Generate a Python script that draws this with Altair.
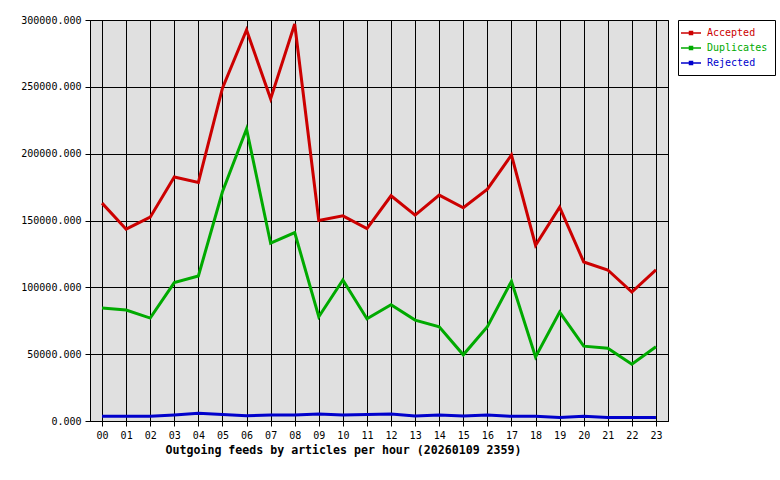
import altair as alt
import pandas as pd

hours = [f"{h:02d}" for h in range(24)]
accepted = [163000, 143500, 152500, 182500, 178500, 249000, 292500, 241000, 297000, 150000,
            153500, 144000, 168500, 154000, 169000, 159500, 173500, 199000, 131500, 160000,
            119000, 113000, 96500, 113000]
duplicates = [84500, 83000, 77000, 103500, 108500, 171500, 218500, 133000, 141000, 78000,
              105500, 76500, 87000, 75500, 70500, 49500, 70500, 104500, 48000, 81500,
              56000, 54500, 42500, 55500]
rejected = [3500, 3500, 3500, 4500, 5800, 4800, 4000, 4500, 4500, 5300,
            4400, 4800, 5200, 3700, 4500, 3700, 4500, 3500, 3500, 2700,
            3500, 2600, 2600, 2600]

series = ["Accepted", "Duplicates", "Rejected"]
colors = ["#cc0000", "#00aa00", "#0000cc"]

df = pd.DataFrame({"hour": hours, "Accepted": accepted, "Duplicates": duplicates, "Rejected": rejected})
long = df.melt(id_vars="hour", var_name="series", value_name="value")

FONT = "DejaVu Sans Mono"
label_color_expr = ("datum.label == 'Accepted' ? '#cc0000' : "
                    "(datum.label == 'Duplicates' ? '#00aa00' : '#0000cc')")

chart = alt.Chart(long).mark_line(strokeWidth=3).encode(
    x=alt.X("hour:O", sort=hours,
            scale=alt.Scale(paddingOuter=0.5),
            axis=alt.Axis(title="Outgoing feeds by articles per hour (20260109 2359)",
                          labelAngle=0, grid=True, gridColor="black", gridOpacity=1,
                          tickColor="black", tickSize=5, labelPadding=4,
                          domainColor="black", labelFont=FONT, labelFontSize=10,
                          labelColor="black", titleFont=FONT, titleFontSize=11.6,
                          titleFontWeight="bold", titleColor="black",
                          titleX=253, titleY=29, titleAlign="center",
                          titleBaseline="middle")),
    y=alt.Y("value:Q", scale=alt.Scale(domain=[0, 300000], nice=False),
            axis=alt.Axis(title=None, format=".3f", values=[0, 50000, 100000, 150000, 200000, 250000, 300000],
                          grid=True, gridColor="black", gridOpacity=1,
                          tickColor="black", tickSize=5, labelPadding=4,
                          domainColor="black", labelFont=FONT, labelFontSize=10,
                          labelColor="black")),
    color=alt.Color("series:N", sort=series,
                    scale=alt.Scale(domain=series, range=colors),
                    legend=alt.Legend(title=None, orient="right", offset=10,
                                      fillColor="white", strokeColor="black",
                                      padding=7, labelFont=FONT, labelFontSize=10,
                                      labelColor={"expr": label_color_expr},
                                      symbolType="M-2,0H2M-0.3,-0.3H0.3V0.3H-0.3Z",
                                      symbolSize=100, symbolStrokeWidth=1.5,
                                      symbolFillColor="white",
                                      rowPadding=4, labelOffset=10)),
).properties(
    width=578, height=401,
    autosize=alt.AutoSizeParams(type="none"),
    padding={"left": 90, "top": 20, "right": 112, "bottom": 59},
    background="white",
).configure_view(
    fill="#e0e0e0", stroke="black", strokeWidth=1
)

chart.save("out.html", embed_options={"renderer": "svg", "actions": False})
